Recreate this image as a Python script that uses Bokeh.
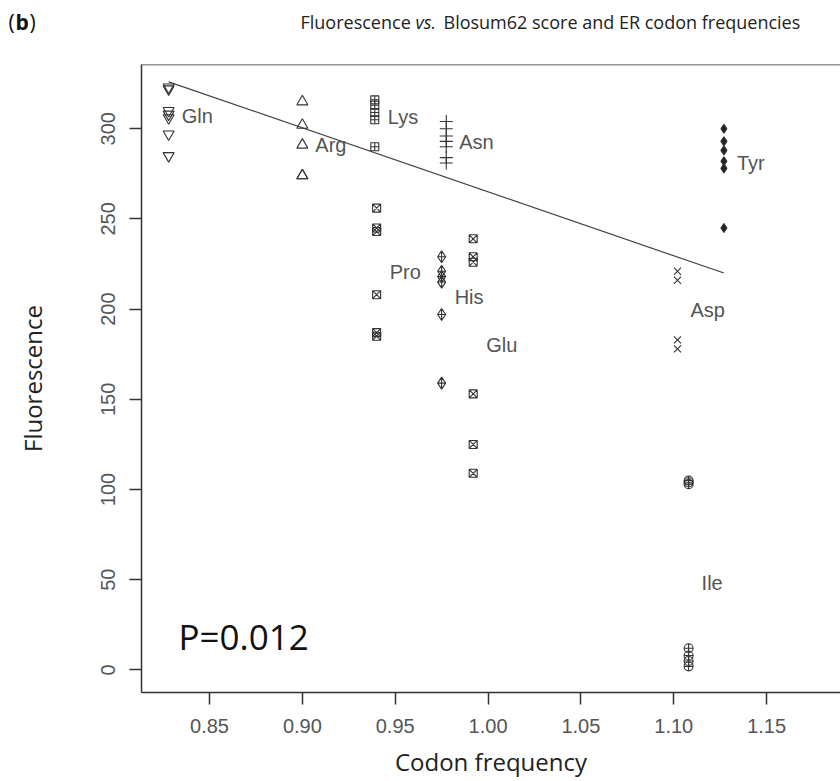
import math
from bokeh.plotting import figure
from bokeh.layouts import column
from bokeh.models import Range1d, FixedTicker, PrintfTickFormatter, Label, Span, ColumnDataSource
from bokeh.embed import file_html
from bokeh.resources import INLINE

# ---------------- data ----------------
aa_names = ["Gln", "Arg", "Lys", "Asn", "Pro", "His", "Glu", "Tyr", "Asp", "Ile"]
codon_freq = [0.828, 0.900, 0.939, 0.9775, 0.940, 0.975, 0.992, 1.127, 1.102, 1.108]
gln_fluor = [323, 322, 310, 308, 306, 297, 285]
arg_fluor = [315, 302, 291, 274, 274]
lys_fluor = [316, 313, 309, 305, 290]
asn_fluor = [304, 300, 296, 293, 290, 284, 281]
pro_fluor = [256, 245, 243, 208, 187, 185]
his_fluor = [229, 221, 218, 215, 197, 159]
glu_fluor = [239, 229, 226, 153, 125, 109]
tyr_fluor = [300, 293, 288, 282, 278, 245]
asp_fluor = [221, 216, 183, 178]
ile_fluor = [105, 104, 103, 12, 8, 5, 2]
fluor_groups = [gln_fluor, arg_fluor, lys_fluor, asn_fluor, pro_fluor,
                his_fluor, glu_fluor, tyr_fluor, asp_fluor, ile_fluor]
fit_x = [0.828, 1.127]
fit_y = [326, 220]
x_ticks = [0.85, 0.90, 0.95, 1.00, 1.05, 1.10, 1.15, 1.20]
y_ticks = [0, 50, 100, 150, 200, 250, 300]
p_value_text = "P=0.012"
panel_tag = "b"
title_parts = ["Fluorescence", "vs.", "Blosum62 score and ER codon frequencies"]
x_label = "Codon frequency"
y_label = "Fluorescence"

# ---------------- styles ----------------
markers = ["inverted_triangle", "triangle", "square_cross", "cross", "square_x",
           "diamond_cross", "square_x", "diamond", "x", "circle_cross"]
sizes = [11, 11, 8, 13, 8, 12, 8, 9, 10, 9]
fills = [None, None, None, None, None, None, None, "#222222", None, None]
GRAY = "#555555"
DARK = "#333333"
TICKFONT = "Liberation Sans"
LABFONT = "Open Sans"

W, H = 840, 781
HEAD = 44
X0, X1 = 0.81338, 0.81338 + (840 - 141) / 1857.0
Y0, Y1 = -12.5, 335.6

# ---------------- header (title row) ----------------
h = figure(width=W, height=HEAD, x_range=Range1d(0, W), y_range=Range1d(HEAD, 0),
           output_backend="svg", toolbar_location=None, x_axis_type=None, y_axis_type=None,
           min_border=0, frame_align=False)
h.outline_line_color = None
h.xgrid.visible = False
h.ygrid.visible = False

def hlab(text, x, y, size, **kw):
    h.add_layout(Label(x=x, y=y, text=text, text_font=kw.pop("font", LABFONT),
                       text_font_size=size, text_baseline="middle", **kw))

hlab("(", 8, 21, "21px", text_color="#111111")
hlab(panel_tag, 15, 21, "21px", text_color="#111111", text_font_style="bold")
hlab(")", 29, 21, "21px", text_color="#111111")
hlab(title_parts[0], 300, 21, "18px", text_color="#222222")
hlab(title_parts[1], 415, 21, "18px", text_color="#222222", text_font_style="italic")
hlab(title_parts[2], 443, 21, "18px", text_color="#222222")

# ---------------- main plot ----------------
p = figure(width=W, height=H - HEAD, x_range=Range1d(X0, X1), y_range=Range1d(Y0, Y1),
           output_backend="svg", toolbar_location=None, frame_align=False,
           min_border_left=141, min_border_right=0, min_border_top=64 - HEAD,
           min_border_bottom=H - 692)
p.outline_line_color = None
p.xgrid.visible = False
p.ygrid.visible = False

for ax in (p.xaxis[0], p.yaxis[0]):
    ax.axis_line_color = DARK
    ax.axis_line_width = 1.5
    ax.major_tick_line_color = DARK
    ax.major_tick_line_width = 1.5
    ax.major_tick_out = 12
    ax.major_tick_in = 0
    ax.minor_tick_line_color = None
    ax.major_label_text_font = TICKFONT
    ax.major_label_text_font_size = "20px"
    ax.major_label_text_color = GRAY
    ax.major_label_standoff = 14
    ax.axis_label_text_font = LABFONT
    ax.axis_label_text_font_size = "24px"
    ax.axis_label_text_font_style = "normal"
    ax.axis_label_text_color = "#222222"

p.xaxis[0].ticker = FixedTicker(ticks=x_ticks)
p.xaxis[0].formatter = PrintfTickFormatter(format="%.2f")
p.xaxis[0].axis_label = x_label
p.xaxis[0].axis_label_standoff = 9
p.yaxis[0].ticker = FixedTicker(ticks=y_ticks)
p.yaxis[0].major_label_orientation = "vertical"
p.yaxis[0].axis_label = y_label
p.yaxis[0].axis_label_standoff = 50

p.add_layout(Span(location=Y1, dimension="width", line_color=DARK, line_width=1.5))

# regression line
p.line(fit_x, fit_y, line_color="#444444", line_width=1.2)

# points
for name, cx, fl, mk, sz, fc in zip(aa_names, codon_freq, fluor_groups, markers, sizes, fills):
    src = ColumnDataSource(dict(x=[cx] * len(fl), y=fl))
    p.scatter("x", "y", source=src, marker=mk, size=sz, line_color=DARK, line_width=1.1,
              fill_color=fc)

# group labels at group means
lab_src = ColumnDataSource(dict(x=codon_freq, y=[sum(f) / len(f) for f in fluor_groups], t=aa_names))
p.text("x", "y", text="t", source=lab_src, x_offset=13, text_baseline="middle", text_align="left",
       text_font_size="20px", text_color=GRAY, text_font={"value": TICKFONT})

p.add_layout(Label(x=178 - 141, y=692 - 636, x_units="screen", y_units="screen", text=p_value_text,
                   text_font=LABFONT, text_font_size="35px", text_baseline="middle",
                   text_color="#111111"))

layout = column(h, p, spacing=0)
open("out.html", "w").write(file_html(layout, INLINE))
